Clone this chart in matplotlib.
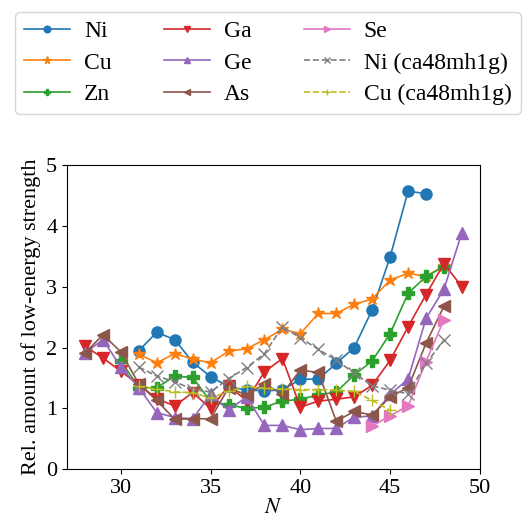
import numpy as np
import matplotlib
matplotlib.use("Agg")
import matplotlib.pyplot as plt

plt.rcParams['font.family'] = ['Liberation Serif', 'DejaVu Serif']
plt.rcParams['mathtext.fontset'] = 'stix'
plt.rcParams['font.size'] = 16

# relative low-energy strength per isotope chain, vs neutron number N
n_ni = np.arange(31, 48)
ni = [1.95, 2.25, 2.13, 1.76, 1.52, 1.36, 1.30, 1.29, 1.30, 1.48, 1.48,
      1.74, 2.00, 2.62, 3.49, 4.57, 4.53]

n_cu = np.arange(31, 49)
cu = [1.89, 1.75, 1.90, 1.81, 1.75, 1.94, 1.98, 2.13, 2.30, 2.23, 2.56,
      2.56, 2.71, 2.80, 3.11, 3.22, 3.17, 3.34]

n_zn = np.arange(30, 49)
zn = [1.78, 1.34, 1.34, 1.53, 1.51, 1.11, 1.06, 1.00, 1.02, 1.12, 1.15,
      1.22, 1.27, 1.55, 1.78, 2.23, 2.89, 3.17, 3.33]

n_ga = np.arange(28, 50)
ga = [2.02, 1.83, 1.61, 1.39, 1.16, 1.04, 1.26, 1.00, 1.37, 1.13, 1.60,
      1.82, 1.02, 1.12, 1.15, 1.19, 1.38, 1.79, 2.34, 2.87, 3.38, 3.00]

n_ge = np.arange(28, 50)
ge = [1.91, 2.13, 1.68, 1.34, 0.93, 0.85, 0.83, 1.23, 0.97, 1.19, 0.72,
      0.72, 0.65, 0.67, 0.67, 0.86, 0.87, 1.23, 1.48, 2.48, 2.96, 3.89]

n_as = np.arange(28, 49)
as_ = [1.91, 2.21, 1.93, 1.40, 1.13, 0.82, 0.83, 0.83, 1.34, 1.22, 1.40,
       1.24, 1.63, 1.59, 0.79, 0.95, 0.89, 1.19, 1.34, 2.07, 2.68]

n_se = np.arange(44, 49)
se = [0.71, 0.88, 1.04, 1.77, 2.46]

n_ni_mh = np.arange(31, 49)
ni_mh = [1.68, 1.53, 1.44, 1.31, 1.27, 1.49, 1.67, 1.90, 2.34, 2.16, 1.97,
         1.79, 1.58, 1.37, 1.30, 1.24, 1.74, 2.12]

n_cu_mh = np.arange(31, 46)
cu_mh = [1.36, 1.32, 1.27, 1.26, 1.17, 1.28, 1.36, 1.33, 1.32, 1.31, 1.31,
         1.30, 1.28, 1.13, 0.97]

fig = plt.figure(figsize=(5.32, 5.29), dpi=100)
ax = fig.add_axes([0.126, 0.113, 0.776, 0.575])

ms = 8
lw = 1.2
ax.plot(n_ni, ni, '-o', color='tab:blue', ms=ms, lw=lw, label='Ni')
ax.plot(n_cu, cu, '-*', color='tab:orange', ms=ms + 1, lw=lw, label='Cu')
ax.plot(n_zn, zn, '-P', color='tab:green', ms=ms, lw=lw, label='Zn')
ax.plot(n_ga, ga, '-v', color='tab:red', ms=ms, lw=lw, label='Ga')
ax.plot(n_ge, ge, '-^', color='tab:purple', ms=ms, lw=lw, label='Ge')
ax.plot(n_as, as_, '-<', color='tab:brown', ms=ms, lw=lw, label='As')
ax.plot(n_se, se, '->', color='tab:pink', ms=ms, lw=lw, label='Se')
ax.plot(n_ni_mh, ni_mh, '--x', color='tab:gray', ms=ms, lw=lw,
        label='Ni (ca48mh1g)')
ax.plot(n_cu_mh, cu_mh, '--+', color='tab:olive', ms=ms, lw=lw,
        label='Cu (ca48mh1g)')

ax.set_xlim(27, 50)
ax.set_ylim(0, 5)
ax.set_xticks([30, 35, 40, 45, 50])
ax.set_yticks([0, 1, 2, 3, 4, 5])
ax.set_xlabel('$N$', labelpad=1)
ax.set_ylabel('Rel. amount of low-energy strength', labelpad=4)

handles, labels = ax.get_legend_handles_labels()
fig.legend(handles, labels, loc='upper left', bbox_to_anchor=(0.006, 1.0),
           ncol=3, fontsize=17, markerscale=0.6, handlelength=1.95,
           handletextpad=0.6, columnspacing=2.2, labelspacing=0.42,
           borderpad=0.38)

plt.savefig('out.png', dpi=100)
plt.close()
